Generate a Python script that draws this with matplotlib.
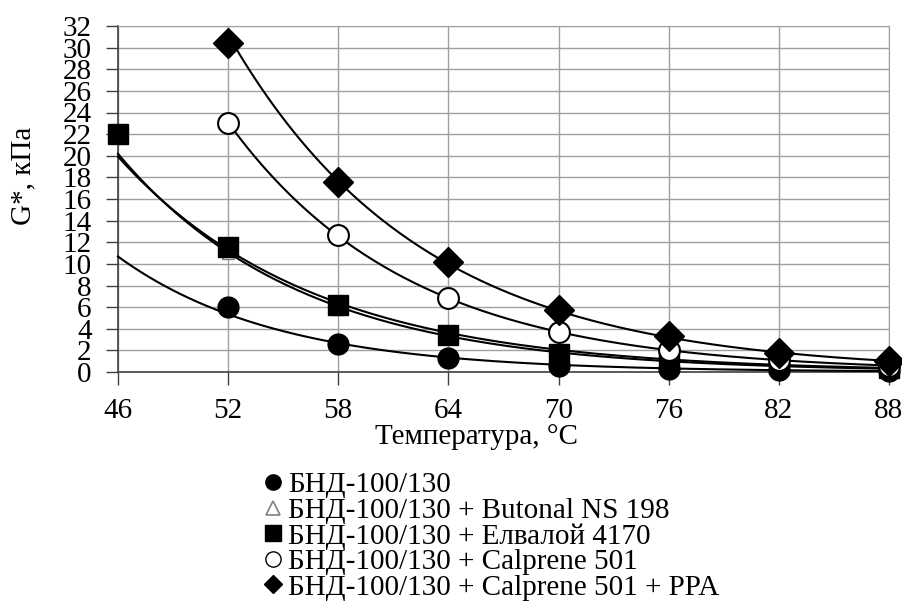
import numpy as np
import matplotlib
matplotlib.use("Agg")
import matplotlib.pyplot as plt
from matplotlib.lines import Line2D

plt.rcParams['font.family'] = ['Liberation Serif', 'DejaVu Serif']

temps = [46, 52, 58, 64, 70, 76, 82, 88]

bnd_x = [52, 58, 64, 70, 76, 82, 88]
bnd_y = [6.0, 2.6, 1.3, 0.6, 0.3, 0.18, 0.09]

butonal_x = [46, 52, 58, 64, 70, 76, 82, 88]
butonal_y = [22.3, 11.0, 5.8, 3.1, 1.7, 1.0, 0.55, 0.32]

elvaloy_x = [46, 52, 58, 64, 70, 76, 82, 88]
elvaloy_y = [22.0, 11.6, 6.2, 3.4, 1.7, 1.2, 0.7, 0.4]

calprene_x = [52, 58, 64, 70, 76, 82, 88]
calprene_y = [23.0, 12.7, 6.8, 3.7, 2.0, 1.1, 0.6]

ppa_x = [52, 58, 64, 70, 76, 82, 88]
ppa_y = [30.4, 17.6, 10.2, 5.7, 3.3, 1.8, 1.0]

labels = [
    "БНД-100/130",
    "БНД-100/130 + Butonal NS 198",
    "БНД-100/130 + Елвалой 4170",
    "БНД-100/130 + Calprene 501",
    "БНД-100/130 + Calprene 501 + PPA",
]

FS = 21

fig = plt.figure(figsize=(9.03, 6.10), dpi=100)
ax = fig.add_axes([118/903, 1-372/610, (889-118)/903, (372-26)/610])


def trend(x, y, x0, x1):
    b, a = np.polyfit(np.array(x, float), np.log(np.array(y, float)), 1)
    xx = np.linspace(x0, x1, 200)
    return xx, np.exp(a + b * xx)


series = [
    (bnd_x, bnd_y, 46, dict(marker='o', ms=15, mfc='black', mec='black')),
    (butonal_x, butonal_y, 46, dict(marker='^', ms=8, mfc='white', mec='gray')),
    (elvaloy_x, elvaloy_y, 46, dict(marker='s', ms=15, mfc='black', mec='black')),
    (calprene_x, calprene_y, 52, dict(marker='o', ms=15, mfc='white', mec='black', mew=1.5)),
    (ppa_x, ppa_y, 52, dict(marker='D', ms=15, mfc='black', mec='black')),
]

for i, (x, y, x0, st) in enumerate(series):
    xx, yy = trend(x, y, x0, 88)
    ax.plot(xx, yy, color='black', lw=1.5, zorder=3, clip_on=False)
for i, (x, y, x0, st) in enumerate(series):
    z = 4 if i == 1 else 5
    ax.plot(x, y, linestyle='none', zorder=z, clip_on=False, **st)

ax.set_xlim(46, 88)
ax.set_ylim(0, 32)
ax.set_xticks(temps)
ax.set_yticks(np.arange(0, 33, 2))
ax.grid(True, color='#a0a0a0', lw=1)
ax.set_axisbelow(True)
for s in ['top', 'right']:
    ax.spines[s].set_color('#a0a0a0')
for s in ['left', 'bottom']:
    ax.spines[s].set_color('#404040')
    ax.spines[s].set_linewidth(1.2)
ax.tick_params(axis='both', direction='out', length=9, width=1, color='#404040',
               labelsize=FS)
ax.tick_params(axis='y', pad=10)
ax.tick_params(axis='x', pad=10)

ax.set_xlabel("Температура, °C", fontsize=FS)
ax.set_ylabel("G*, кПа", fontsize=FS)
ax.xaxis.set_label_coords((477-118)/(889-118), -(424-372)/(372-26))
ax.yaxis.set_label_coords(-(118-36)/(889-118), (372-176)/(372-26))

handles = [
    Line2D([], [], ls='none', marker='o', ms=11, mfc='black', mec='black'),
    Line2D([], [], ls='none', marker='^', ms=10, mfc='white', mec='gray', mew=1.2),
    Line2D([], [], ls='none', marker='s', ms=11, mfc='black', mec='black'),
    Line2D([], [], ls='none', marker='o', ms=11, mfc='white', mec='black', mew=1.0),
    Line2D([], [], ls='none', marker='D', ms=9, mfc='black', mec='black'),
]
fig.legend(handles, labels, loc='upper left', bbox_to_anchor=(263/903, 1-472/610),
           frameon=False, fontsize=FS, handlelength=0.7, handletextpad=0.17,
           labelspacing=-0.03, borderpad=0, borderaxespad=0)

fig.savefig("out.png", dpi=100)
